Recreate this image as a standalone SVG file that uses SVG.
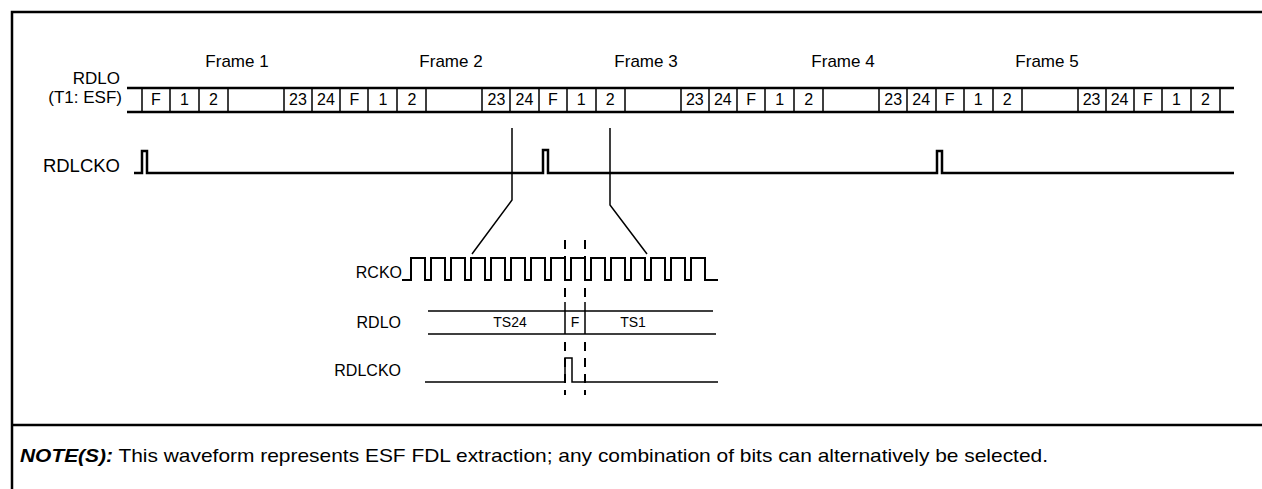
<svg xmlns="http://www.w3.org/2000/svg" width="1262" height="489" viewBox="0 0 1262 489">
<style>
.t{font-family:"Liberation Sans",Arial,sans-serif;font-size:16px;fill:#000}
.L{font-size:18.5px}
.M{font-size:17px}
.c{font-family:"Liberation Sans",Arial,sans-serif;font-size:16px;fill:#000;text-anchor:middle}
.f{font-size:17px}
.s{font-family:"Liberation Sans",Arial,sans-serif;font-size:14px;fill:#000;text-anchor:middle}
.r{text-anchor:end}
.w{fill:none;stroke:#000;stroke-width:2.5}
.thin{fill:none;stroke:#000;stroke-width:1.5}
.clk{fill:none;stroke:#000;stroke-width:2}
.dash{fill:none;stroke:#000;stroke-width:2;stroke-dasharray:9,7}
.n{font-family:"Liberation Sans",Arial,sans-serif;font-size:19px;fill:#000}
</style>
<rect width="1262" height="489" fill="#fff"/>
<g id="frame">
<path d="M12,489 V12 H1262" class="w"/>
<path d="M12,425 H1262" class="w"/>
</g>
<g id="frame-labels">
<text class="c f" x="237" y="67">Frame 1</text>
<text class="c f" x="451" y="67">Frame 2</text>
<text class="c f" x="646" y="67">Frame 3</text>
<text class="c f" x="843" y="67">Frame 4</text>
<text class="c f" x="1047" y="67">Frame 5</text>
</g>
<g id="rdlo-bus">
<text class="t M r" x="120" y="84">RDLO</text>
<text class="t M r" x="122" y="103">(T1: ESF)</text>
<path d="M127,88 H1234 M127,112 H1234" class="w"/>
<path class="thin" d="M142,88V112M170,88V112M199,88V112M228,88V112M284,88V112M312,88V112
M340,88V112M368,88V112M397,88V112M426,88V112M482,88V112M510,88V112
M539,88V112M567,88V112M596,88V112M625,88V112M681,88V112M709,88V112
M737,88V112M765,88V112M794,88V112M823,88V112M879,88V112M907,88V112
M936,88V112M964,88V112M993,88V112M1022,88V112M1078,88V112M1106,88V112
M1134,88V112M1162,88V112M1191,88V112M1220,88V112"/>
<g class="c">
<text x="156" y="105">F</text><text x="184.5" y="105">1</text><text x="213.5" y="105">2</text><text x="298" y="105">23</text><text x="326" y="105">24</text>
<text x="354.4" y="105">F</text><text x="382.9" y="105">1</text><text x="411.9" y="105">2</text><text x="496.4" y="105">23</text><text x="524.4" y="105">24</text>
<text x="552.8" y="105">F</text><text x="581.3" y="105">1</text><text x="610.3" y="105">2</text><text x="694.8" y="105">23</text><text x="722.8" y="105">24</text>
<text x="751.2" y="105">F</text><text x="779.7" y="105">1</text><text x="808.7" y="105">2</text><text x="893.2" y="105">23</text><text x="921.2" y="105">24</text>
<text x="949.6" y="105">F</text><text x="978.1" y="105">1</text><text x="1007.1" y="105">2</text><text x="1091.6" y="105">23</text><text x="1119.6" y="105">24</text>
<text x="1148" y="105">F</text><text x="1176.5" y="105">1</text><text x="1205.5" y="105">2</text>
</g>
</g>
<g id="rdlcko-main">
<text class="t L r" x="120" y="172">RDLCKO</text>
<path class="w" d="M134,173 H142 V151 H147 V173 H543 V150 H548 V173 H937 V151 H942 V173 H1234"/>
</g>
<g id="connectors">
<path class="thin" d="M512,128 V200 L472,254"/>
<path class="thin" d="M610,128 V205 L647,254"/>
</g>
<g id="rcko">
<text class="t r" x="402" y="278">RCKO</text>
<path class="clk" d="M402,280 H411 V258 H425 V280 H431 V258 H445 V280 H451 V258 H465 V280 H471 V258 H485 V280 H491 V258 H505 V280 H511 V258 H525 V280 H531 V258 H545 V280 H551 V258 H565 V280 H571 V258 H585 V280 H591 V258 H605 V280 H611 V258 H625 V280 H631 V258 H645 V280 H651 V258 H665 V280 H671 V258 H685 V280 H691 V258 H705 V280 H718"/>
</g>
<g id="rdlo-detail">
<text class="t r" x="401" y="328">RDLO</text>
<path class="thin" d="M428,311 H713 M428,334 H716 M565,302 V334 M585,302 V334"/>
<text class="s" x="510" y="327">TS24</text>
<text class="s" x="575" y="327">F</text>
<text class="s" x="633" y="327">TS1</text>
</g>
<g id="rdlcko-detail">
<text class="t r" x="401" y="376">RDLCKO</text>
<path class="thin" d="M425,382 H565 V358 H572 V382 H718"/>
</g>
<g id="markers">
<path class="dash" d="M565,240 V302 M565,342 V395 M585,240 V302 M585,342 V395"/>
</g>
<g id="note">
<text class="n" x="20" y="462" textLength="1028" lengthAdjust="spacingAndGlyphs"><tspan font-weight="bold" font-style="italic">NOTE(S):</tspan> This waveform represents ESF FDL extraction; any combination of bits can alternatively be selected.</text>
</g>
</svg>
